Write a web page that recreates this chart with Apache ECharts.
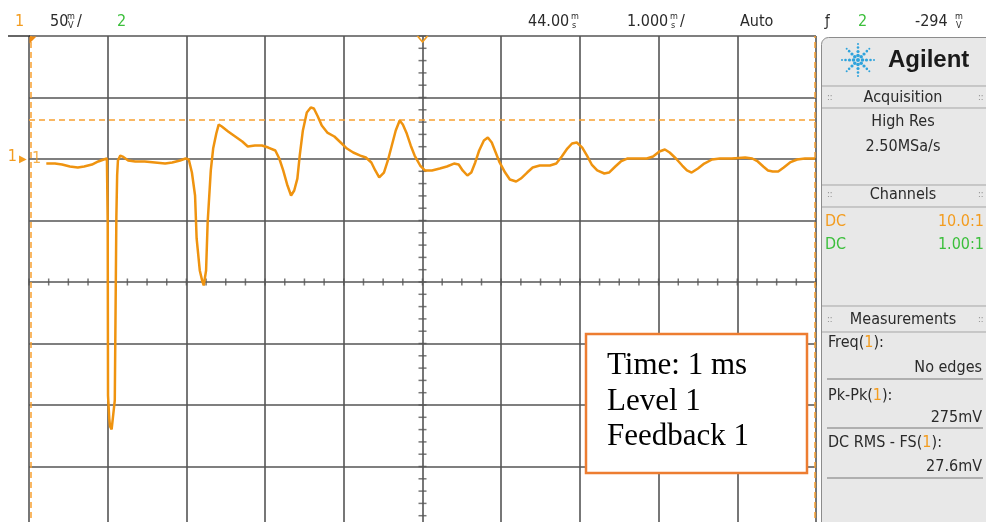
<!DOCTYPE html>
<html>
<head>
<meta charset="utf-8">
<script src="https://cdn.jsdelivr.net/npm/echarts@6/dist/echarts.min.js"></script>
<style>html,body{margin:0;padding:0;background:#fff}#c{width:986px;height:522px}</style>
</head>
<body>
<div id="c"></div>
<script>
// ---- Channel 1 trace (time in ms, voltage in mV relative to channel-1 ground) ----
const time = [39.22,39.33,39.42,39.52,39.62,39.70,39.80,39.88,39.95,39.99,
  40.00,40.004,40.02,40.03,40.05,40.07,40.09,40.11,40.12,40.13,40.16,40.19,40.26,40.35,40.47,40.60,40.73,40.82,40.92,40.99,
  41.03,41.07,41.11,41.13,41.17,41.20,41.22,41.25,41.27,41.31,41.34,41.38,41.41,41.45,41.53,41.62,41.71,41.78,41.87,41.96,
  42.04,42.13,42.18,42.23,42.28,42.33,42.37,42.41,42.44,42.48,42.53,42.58,42.62,42.67,42.72,42.79,42.88,42.96,
  43.04,43.12,43.21,43.28,43.35,43.40,43.45,43.51,43.56,43.61,43.66,43.71,43.75,43.80,43.85,43.90,43.97,
  44.03,44.12,44.22,44.31,44.40,44.46,44.51,44.57,44.62,44.67,44.72,44.78,44.83,44.88,44.93,44.98,
  45.05,45.11,45.19,45.25,45.33,45.40,45.49,45.62,45.70,45.77,45.84,45.90,45.96,
  46.03,46.09,46.15,46.22,46.31,46.37,46.45,46.52,46.60,46.73,46.85,46.93,
  47.01,47.08,47.14,47.22,47.30,47.36,47.42,47.50,47.58,47.68,47.78,47.93,
  48.10,48.19,48.26,48.33,48.39,48.45,48.52,48.59,48.67,48.76,48.86,48.99];
const ch1 = [-3.7,-3.7,-4.5,-6.1,-6.9,-6.1,-4.5,-2.0,-0.4,0.4,
  -51.6,-192.3,-211,-217.5,-219.9,-219,-196.3,-47.6,-13.4,-1.2,2.8,2.0,-1.2,-2.0,-2.0,-2.8,-3.7,-2.8,-1.2,0.4,
  -0.4,-11.0,-29.7,-64.6,-90.6,-98.8,-102.8,-90.6,-51.6,-9.3,8.5,20.7,28.0,26.4,22.4,18.3,14.2,10.2,11.0,11.0,
  9.3,6.9,0.4,-9.3,-20.7,-29.7,-25.6,-15.9,2.8,23.2,37.8,41.9,41.1,34.6,27.2,21.5,18.3,13.4,
  8.5,5.3,2.8,1.2,-2.8,-9.3,-15.0,-11.0,-1.2,11.0,23.2,31.3,28.0,20.7,11.0,2.8,-5.3,
  -9.3,-9.3,-7.7,-6.1,-3.7,-4.5,-9.3,-13.4,-11.0,-2.8,6.9,15.0,17.5,13.4,5.3,-2.8,
  -11.0,-16.7,-18.3,-15.9,-11.0,-6.9,-5.3,-5.3,-3.7,2.0,8.5,12.6,13.4,
  9.3,2.8,-4.5,-9.3,-11.8,-11.0,-6.1,-2.0,0.4,0.4,0.4,2.0,
  6.1,7.7,5.3,0.4,-5.3,-9.3,-11.0,-7.7,-3.7,-0.4,0.4,0.4,
  1.2,0.4,-2.0,-6.1,-9.3,-10.2,-10.2,-6.9,-2.8,-0.4,0.4,0.4];

// ---- Scope settings / cursors ----
const timeMin = 39, timeMax = 49, timePerDiv = 1;      // 44.00 ms delay, 1.000 ms/div
const voltMin = -300, voltMax = 100, voltPerDiv = 50;  // 50 mV/div
const centerTime = 44, centerVolt = -100;
const yCursor = 32;
const xCursors = [39.02, 48.98];
const hMinorTicks = [];  // 4 sub-divisions per time division
for (let t = timeMin; t <= timeMax + 1e-9; t += 0.25) hMinorTicks.push([+t.toFixed(2), centerVolt]);
const vMinorTicks = [];  // 5 sub-divisions per volt division
for (let v = voltMin; v <= voltMax + 1e-9; v += 10) vMinorTicks.push([centerTime, v]);

// ---- Status texts ----
const topTexts = {ch: '1', scale: '50', ch2: '2', delay: '44.00', tdiv: '1.000', mode: 'Auto', trigCh: '2', trigLevel: '-294'};
const acqTexts = ['High Res', '2.50MSa/s'];
const chanRows = [['DC', '10.0:1', '#f39c1f'], ['DC', '1.00:1', '#3cbf3c']];
const measRows = [['Freq({o|1}):', 'No edges'], ['Pk-Pk({o|1}):', '275mV'], ['DC RMS - FS({o|1}):', '27.6mV']];
const noteLines = ['Time: 1 ms', 'Level 1', 'Feedback 1'];

const ORANGE = '#f39c1f', GREEN = '#3cbf3c', TRACE = '#ef930f';
const UI = '"DejaVu Sans Condensed","Liberation Sans Narrow","DejaVu Sans",sans-serif';
const f = (s) => s + 'px ' + UI;

const g = [];
function txt(x, y, text, opt) {
  opt = opt || {};
  g.push({type: 'text', z: 100, style: Object.assign({x, y, text, fill: '#2a2a2a', font: f(16), align: 'left', verticalAlign: 'middle'}, opt)});
}
function line(x1, y1, x2, y2, color, w) {
  g.push({type: 'line', z: 100, shape: {x1, y1, x2, y2}, style: {stroke: color, lineWidth: w || 1}});
}
function unit(x, a, b) {
  txt(x, 17, a, {font: f(9)});
  txt(x + 1, 26, b, {font: f(9)});
}
// top bar
txt(15, 22, topTexts.ch, {fill: ORANGE});
txt(50, 22, topTexts.scale);
unit(67, 'm', 'V'); txt(77, 22, '/');
txt(117, 22, topTexts.ch2, {fill: GREEN});
txt(528, 22, topTexts.delay); unit(571, 'm', 's');
txt(627, 22, topTexts.tdiv); unit(670, 'm', 's'); txt(680, 22, '/');
txt(740, 22, topTexts.mode);
txt(825, 22, '\u0192', {font: f(15)});
txt(858, 22, topTexts.trigCh, {fill: GREEN});
txt(915, 22, topTexts.trigLevel); unit(955, 'm', 'V');
line(8, 36, 30, 36, '#333', 1.5);

// right panel
g.push({type: 'rect', z: 90, shape: {x: 821.5, y: 37.5, width: 180, height: 500, r: [7, 0, 0, 0]}, style: {fill: '#e8e8e8', stroke: '#8c8c8c', lineWidth: 1}});
// logo
const cx = 858, cy = 60;
for (let k = 0; k < 8; k++) {
  const a = k * Math.PI / 4;
  [[4.5, 1.8], [8.5, 1.6], [12.5, 1.3], [16, 1.0]].forEach(([r, s]) => {
    g.push({type: 'circle', z: 101, shape: {cx: cx + r * Math.cos(a), cy: cy + r * Math.sin(a), r: s}, style: {fill: '#2fa3dc'}});
  });
}
g.push({type: 'circle', z: 101, shape: {cx, cy, r: 2}, style: {fill: '#2fa3dc'}});
txt(888, 60, 'Agilent', {font: 'bold 24px "Liberation Sans", Arial, sans-serif', fill: '#1a1a1a'});
[86, 108, 185, 207, 306, 332].forEach(y => line(822, y, 986, y, '#a5a5a5', 1));
function header(y, t) {
  txt(903, y, t, {align: 'center'});
  txt(827, y, '::', {font: f(9), fill: '#888'});
  txt(978, y, '::', {font: f(9), fill: '#888'});
}
header(98, 'Acquisition');
txt(903, 122, acqTexts[0], {align: 'center'});
txt(903, 147, acqTexts[1], {align: 'center'});
header(195, 'Channels');
chanRows.forEach((r, i) => {
  txt(825, 222 + 23 * i, r[0], {fill: r[2]});
  txt(984, 222 + 23 * i, r[1], {fill: r[2], align: 'right'});
});
header(320, 'Measurements');
measRows.forEach((r, i) => {
  const y0 = [343, 396, 443][i], y1 = [368, 418, 467][i], yl = [379, 428, 478][i];
  txt(828, y0, r[0], {rich: {o: {fill: ORANGE, font: f(16)}}});
  txt(982, y1, r[1], {align: 'right'});
  line(827, yl, 983, yl, '#777', 1);
});

// note box
g.push({type: 'rect', z: 110, shape: {x: 586, y: 334, width: 221, height: 139}, style: {fill: '#fff', stroke: '#ed7d31', lineWidth: 2.5}});
noteLines.forEach((t, i) => {
  g.push({type: 'text', z: 111, style: {x: 607, y: [366, 402, 437][i], text: t, fill: '#000', font: '31px "Liberation Serif","Times New Roman",serif', verticalAlign: 'middle'}});
});

const gridLine = {show: true, lineStyle: {color: '#555', width: 1.6}};
const chart = echarts.init(document.getElementById('c'), null, {renderer: 'canvas'});
chart.setOption({
  animation: false,
  backgroundColor: '#fff',
  grid: {left: 29, top: 36, width: 787, height: 492, containLabel: false, outerBoundsMode: 'none'},
  xAxis: {type: 'value', min: timeMin, max: timeMax, interval: timePerDiv,
    axisLine: {show: false}, axisTick: {show: false}, axisLabel: {show: false}, splitLine: gridLine},
  yAxis: {type: 'value', min: voltMin, max: voltMax, interval: voltPerDiv,
    axisLine: {show: false}, axisTick: {show: false}, splitLine: gridLine,
    axisLabel: {show: true, margin: 2, formatter: v => v === 0 ? '{a|1}{b|\u25B6}' : '',
      rich: {a: {color: ORANGE, fontSize: 16, fontFamily: UI, padding: [0, 2, 4, 0]}, b: {color: ORANGE, fontSize: 10}}}},
  series: [
    {type: 'scatter', data: hMinorTicks, symbol: 'rect', symbolSize: [1.5, 7], itemStyle: {color: '#555'}, silent: true, z: 2},
    {type: 'scatter', data: vMinorTicks, symbol: 'rect', symbolSize: [8, 1.5], itemStyle: {color: '#555'}, silent: true, z: 2},
    {type: 'line', data: time.map((t, i) => [t, ch1[i]]), showSymbol: false, silent: true, z: 5,
      lineStyle: {color: TRACE, width: 2.5}, itemStyle: {color: TRACE},
      markLine: {silent: true, symbol: 'none', label: {show: false},
        lineStyle: {color: '#f7a030', type: [6, 4], width: 1.5},
        data: [{yAxis: yCursor}, {xAxis: xCursors[0]}, {xAxis: xCursors[1]}]},
      markPoint: {silent: true, label: {show: false}, data: [
        {coord: [timeMin, voltMax], symbol: 'path://M0,0L10,0L0,10Z', symbolSize: 7, symbolOffset: [4, 4], itemStyle: {color: '#f08a10'}},
        {coord: [centerTime, voltMax], symbol: 'path://M0,0L5,6L10,0', symbolSize: [10, 6], symbolOffset: [0, 3], itemStyle: {color: 'none', borderColor: ORANGE, borderWidth: 1.5}}
      ]}},
    {type: 'scatter', data: [[timeMin, 0]], symbolSize: 0, silent: true, z: 6,
      label: {show: true, formatter: '1', position: 'right', distance: 3, color: ORANGE, fontSize: 16, fontFamily: UI}}
  ],
  graphic: g
});
</script>
</body>
</html>
